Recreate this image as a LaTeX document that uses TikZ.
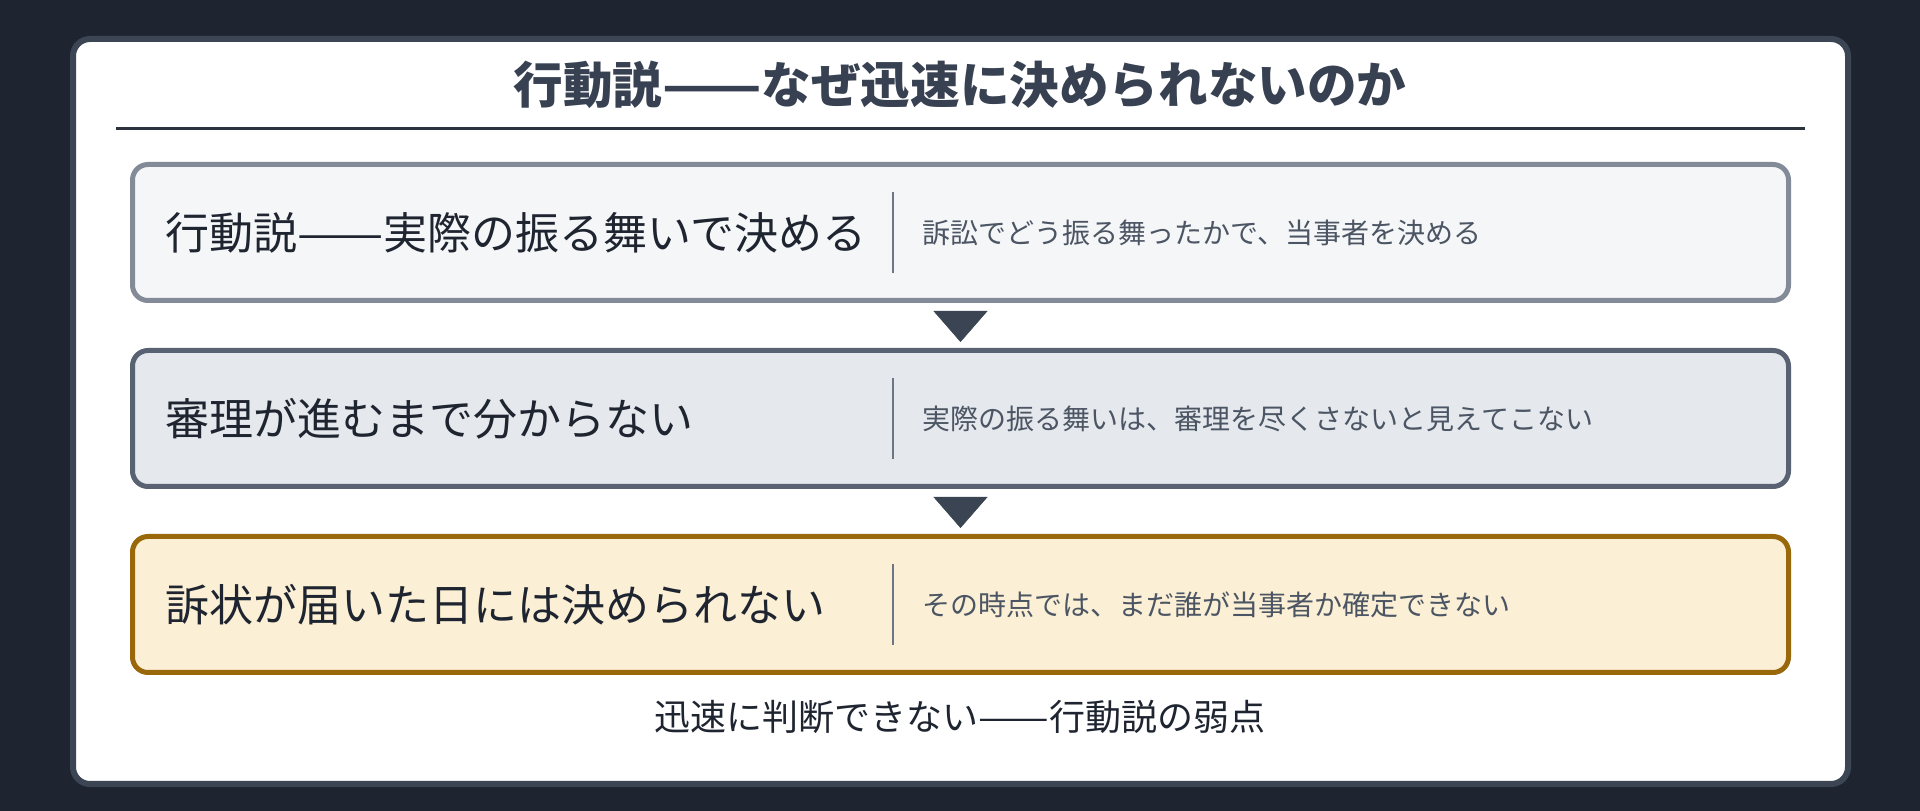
\documentclass[tikz,border=0pt]{standalone}
\usepackage{fontspec}
\usepackage{graphicx}
\setmainfont{Noto Sans CJK JP}
\usetikzlibrary{arrows.meta}
\definecolor{pagebg}{HTML}{1E2530}
\definecolor{cardline}{HTML}{3C4553}
\definecolor{titlecol}{HTML}{374151}
\definecolor{rulecol}{HTML}{2B323D}
\definecolor{fillone}{HTML}{F5F6F8}
\definecolor{lineone}{HTML}{848B98}
\definecolor{filltwo}{HTML}{E5E8ED}
\definecolor{linetwo}{HTML}{586272}
\definecolor{fillthree}{HTML}{FBEFD5}
\definecolor{linethree}{HTML}{98680A}
\definecolor{tipcol}{HTML}{3B4452}
\definecolor{divcol}{HTML}{6E7685}
\definecolor{headcol}{HTML}{1F2530}
\definecolor{notecol}{HTML}{4B5563}
\newcommand{\jpdash}{\scalebox{1.17}[1]{——}}
\begin{document}
\begin{tikzpicture}[>=latex,line join=bevel,
  stepbox/.style={draw,rounded corners=7.75bp,line width=2.5bp,minimum width=828bp,minimum height=68bp,inner sep=0pt},
  headtext/.style={anchor=west,inner sep=0pt,text=headcol,font=\fontsize{22bp}{26bp}\selectfont},
  notetext/.style={anchor=west,inner sep=0pt,text=notecol,font=\fontsize{14bp}{17bp}\selectfont},
  divline/.style={divcol,line width=1.4bp},
  flowtip/.style={tipcol,line width=0.2bp,-{Triangle[width=27bp,length=15.5bp]},shorten <=3.9bp,shorten >=3bp},]
%%
\useasboundingbox (0bp,0bp) rectangle (960bp,405.5bp);
\fill [pagebg] (0bp,0bp) rectangle (960bp,405.5bp);
\draw [cardline,fill=white,line width=3bp,rounded corners=8.5bp] (36.5bp,13.5bp) rectangle (924bp,386bp);
\node (title) at (480.0bp,363.0bp) [draw=none,inner sep=0pt,text=titlecol,font=\bfseries\fontsize{24.8bp}{29bp}\selectfont] {行動説\jpdash なぜ迅速に決められないのか};
\draw [rulecol,line width=1.5bp] (58bp,341bp) -- (902.5bp,341bp);
%
\node (box_1) at (480.25bp,289.25bp) [stepbox,draw=lineone,fill=fillone] {};
  \node (box_2) at (480.25bp,196.25bp) [stepbox,draw=linetwo,fill=filltwo] {};
  \node (box_3) at (480.25bp,103.25bp) [stepbox,draw=linethree,fill=fillthree] {};
  \node (head_1) at (82.5bp,289.25bp) [headtext] {行動説\jpdash 実際の振る舞いで決める};
  \node (head_2) at (82.5bp,196.25bp) [headtext] {審理が進むまで分からない};
  \node (head_3) at (82.5bp,103.25bp) [headtext] {訴状が届いた日には決められない};
  \draw [divline] (446.5bp,309.5bp) -- (446.5bp,269.0bp);
  \draw [divline] (446.5bp,216.5bp) -- (446.5bp,176.0bp);
  \draw [divline] (446.5bp,123.5bp) -- (446.5bp,83.0bp);
  \node (note_1) at (461.0bp,289.25bp) [notetext] {訴訟でどう振る舞ったかで、当事者を決める};
  \node (note_2) at (461.0bp,196.25bp) [notetext] {実際の振る舞いは、審理を尽くさないと見えてこない};
  \node (note_3) at (461.0bp,103.25bp) [notetext] {その時点では、まだ誰が当事者か確定できない};
  \draw [flowtip] (box_1.south) -- (box_2.north);
  \draw [flowtip] (box_2.south) -- (box_3.north);
%
\node (footer) at (480.0bp,47.0bp) [draw=none,inner sep=0pt,text=headcol,font=\fontsize{18bp}{22bp}\selectfont] {迅速に判断できない\jpdash 行動説の弱点};
\end{tikzpicture}
\end{document}
